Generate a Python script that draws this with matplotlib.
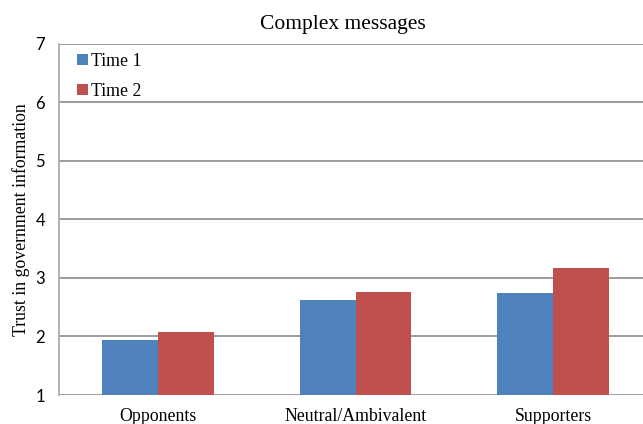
import matplotlib
matplotlib.use("Agg")
import matplotlib.pyplot as plt
import numpy as np

# Mean trust scores by attitude group and measurement time
categories = ["Opponents", "Neutral/Ambivalent", "Supporters"]
time1 = [1.94, 2.63, 2.74]
time2 = [2.07, 2.76, 3.17]
series_labels = ["Time 1", "Time 2"]
y_ticks = [1, 2, 3, 4, 5, 6, 7]

W, H = 643, 424
fig = plt.figure(figsize=(W / 100, H / 100), dpi=100)
ax = fig.add_axes([59 / W, 1 - 395 / H, 593 / W, (395 - 43.5) / H])

serif = "Liberation Serif"
blue = "#4F81BD"
red = "#C0504D"
grid_c = "#8C8C8C"

x = np.arange(len(categories))
bw = 0.283
b1 = ax.bar(x - bw / 2, time1, bw, bottom=0, color=blue, label=series_labels[0], zorder=3)
b2 = ax.bar(x + bw / 2, time2, bw, bottom=0, color=red, label=series_labels[1], zorder=3)

ax.set_xlim(-0.5, len(categories) - 0.5)
ax.set_ylim(1, 7)
ax.set_yticks(y_ticks)
ax.set_yticklabels([str(t) for t in y_ticks], fontfamily="Lato", fontsize=12)
ax.set_xticks(x)
ax.set_xticklabels(categories, fontfamily=serif, fontsize=12.8)
ax.tick_params(axis="y", length=0, pad=10)
ax.tick_params(axis="x", length=0, pad=9.5)

ax.yaxis.grid(True, color=grid_c, linewidth=1.2, zorder=0)
ax.set_axisbelow(True)
for side in ["top", "right", "bottom"]:
    ax.spines[side].set_visible(False)
ax.spines["left"].set_color("#A6A6A6")
ax.spines["left"].set_linewidth(1.2)

ax.set_ylabel("Trust in government information", fontfamily=serif, fontsize=12.8, labelpad=4)

fig.text(343 / W, 1 - 25 / H, "Complex messages", fontfamily=serif, fontsize=15.5,
         ha="center", va="center")

leg = ax.legend(handles=[b1, b2], loc="upper left",
                bbox_to_anchor=(77 / W, 1 - 53 / H), bbox_transform=fig.transFigure,
                frameon=False, prop={"family": serif, "size": 12.8},
                handlelength=0.6, handleheight=0.6, handletextpad=0.18,
                labelspacing=0.72, borderpad=0, borderaxespad=0)

fig.savefig("out.png", dpi=100)
